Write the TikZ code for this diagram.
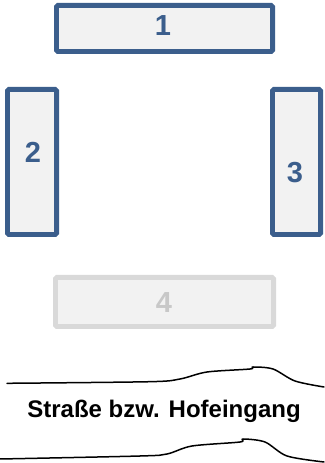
\documentclass[tikz,border=0pt]{standalone}
\usepackage{fontspec}
\setmainfont{Liberation Sans}
\definecolor{boxblue}{RGB}{59,94,140}
\definecolor{boxfill}{RGB}{242,242,242}
\definecolor{greyline}{RGB}{217,217,217}
\definecolor{greytext}{RGB}{200,200,200}
\begin{document}
\begin{tikzpicture}[x=1pt,y=1pt,
  bluebox/.style={draw=boxblue,fill=boxfill,line width=4.8pt,rounded corners=1.5pt},
  greybox/.style={draw=greyline,fill=boxfill,line width=4.8pt,rounded corners=1.5pt},
  numlabel/.style={font=\fontsize{29}{29}\selectfont\bfseries,text=boxblue,inner sep=0pt},
  road/.style={line width=1.5pt,line join=round,line cap=round}]
\useasboundingbox (0,0) rectangle (324,463);
% boxes
\draw[bluebox] (56.4,411.4) rectangle (272.6,457.6);
\draw[bluebox] (7.4,228.4) rectangle (56.6,373.6);
\draw[bluebox] (272.4,228.4) rectangle (320.6,373.6);
\draw[greybox] (55.4,136.4) rectangle (273.6,185.6);
% numbers
\node[numlabel] (n1) at (163,437.5) {1};
\node[numlabel] (n2) at (33,311) {2};
\node[numlabel] (n3) at (295,290) {3};
\node[numlabel,text=greytext] (n4) at (164,160) {4};
% road
\draw[road] plot[smooth,tension=0.5] coordinates {(7,79.7) (150,81.3) (180,84) (207,91) (250,94) (253,96) (273,94) (295,82) (324,76)};
\draw[road] plot[smooth,tension=0.5] coordinates {(0,4) (140,7) (167,9) (192,17) (240,21) (243,24) (265,21) (287,7) (324,1)};
\node[font=\fontsize{24}{24}\selectfont\bfseries,inner sep=0pt] (road) at (164,52) {Straße bzw. Hofeingang};
\end{tikzpicture}
\end{document}
